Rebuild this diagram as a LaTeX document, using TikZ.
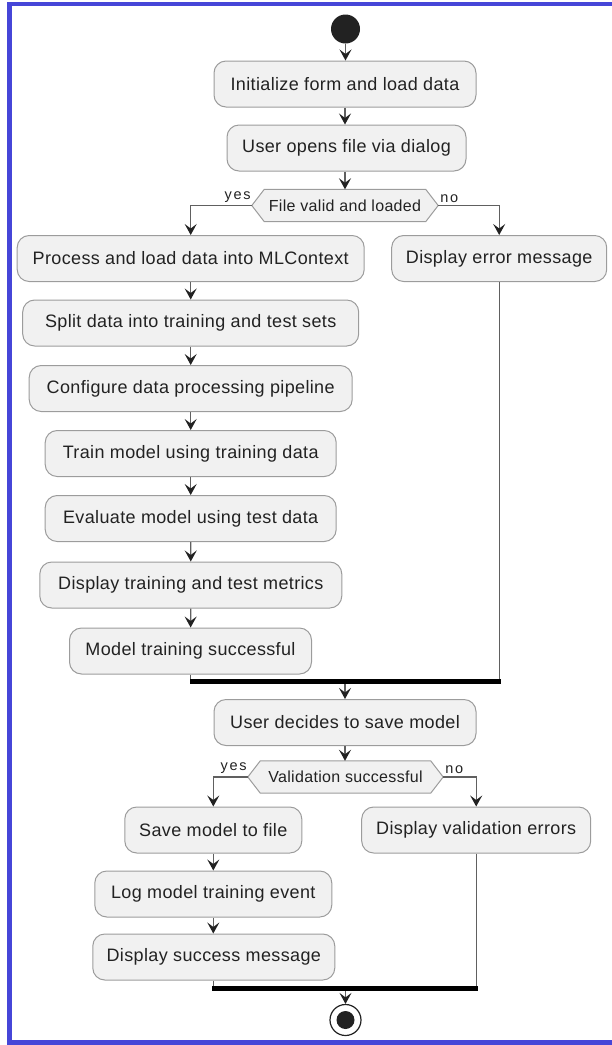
\documentclass[tikz,border=0pt]{standalone}
\usepackage{fontspec}
\setmainfont{Liberation Sans}[LetterSpace=2]
\newfontfamily\guardfont{Liberation Sans}[LetterSpace=2]
\newfontfamily\branchfont{Liberation Sans}[LetterSpace=12]
\usetikzlibrary{arrows.meta,calc,backgrounds}
\definecolor{frameblue}{HTML}{4646D8}
\definecolor{boxfill}{HTML}{F1F1F1}
\definecolor{boxline}{HTML}{9C9C9C}
\definecolor{ink}{HTML}{222222}
\definecolor{wire}{HTML}{606060}

\begin{document}
\begin{tikzpicture}[x=1pt,y=-1pt,
  action/.style={draw=boxline, fill=boxfill, line width=1pt, rounded corners=12pt,
    minimum height=46pt, inner sep=0pt, text=ink, font=\fontsize{18}{20}\selectfont},
  guard/.style={inner sep=0pt, minimum height=32pt, text=ink,
    font=\guardfont\fontsize{16}{18}\selectfont},
  hexline/.style={draw=boxline, fill=boxfill, line width=1pt},
  branch/.style={inner sep=0pt, text=ink, font=\branchfont\fontsize{14.5}{16}\selectfont},
  flow/.style={draw=wire, line width=1.3pt,
    -{Stealth[length=11pt,width=12pt,inset=4.5pt,color=ink]}},
  mergeline/.style={draw=wire, line width=1.3pt},
  syncbar/.style={fill=black, inner sep=0pt, minimum height=5.5pt},
]
\useasboundingbox (0,0) rectangle (612,1045);

% frame (open on the right side)
\draw[frameblue, line width=4.5pt] (612,4) -- (9.5,4) -- (9.5,1042.7) -- (612,1042.7);

% start
\node[circle, fill=ink, minimum size=29pt, inner sep=0pt] (start) at (345.5,29) {};

% main sequence
\node[action, minimum width=262pt] (init) at (345,84) {Initialize form and load data};
\node[action, minimum width=239pt] (open) at (346.5,148) {User opens file via dialog};

% first decision
\node[guard, minimum width=161pt] (q1) at (345,205.5) {File valid and loaded};
\coordinate (q1l) at ([xshift=-12.5pt]q1.west);
\coordinate (q1r) at ([xshift=12.5pt]q1.east);
\begin{scope}[on background layer]
  \draw[hexline] (q1.north west) -- (q1.north east) -- (q1r) -- (q1.south east)
    -- (q1.south west) -- (q1l) -- cycle;
\end{scope}
\node[branch, anchor=south east] (yes1) at ([xshift=-1pt,yshift=3pt]q1l) {yes};
\node[branch, anchor=south west] (no1) at ([xshift=2pt,yshift=3pt]q1r) {no};

% success branch
\node[action, minimum width=347pt] (proc) at (190.7,258.5) {Process and load data into MLContext};
\node[action, minimum width=336pt] (split) at (190.7,323) {Split data into training and test sets};
\node[action, minimum width=323pt] (conf) at (190.7,388.5) {Configure data processing pipeline};
\node[action, minimum width=291pt] (train) at (190.7,453.5) {Train model using training data};
\node[action, minimum width=291pt] (eval) at (190.7,518.5) {Evaluate model using test data};
\node[action, minimum width=302pt] (metr) at (190.8,585) {Display training and test metrics};
\node[action, minimum width=242pt] (done) at (190.5,651) {Model training successful};

% failure branch
\node[action, minimum width=215pt] (err) at (499.2,258.5) {Display error message};

% merge
\node[syncbar, minimum width=311pt] (bar1) at (345,681.5) {};

\node[action, minimum width=262pt] (decide) at (345,722.5) {User decides to save model};

% second decision
\node[guard, minimum width=170pt] (q2) at (345.5,777) {Validation successful};
\coordinate (q2l) at ([xshift=-12.5pt]q2.west);
\coordinate (q2r) at ([xshift=12.5pt]q2.east);
\begin{scope}[on background layer]
  \draw[hexline] (q2.north west) -- (q2.north east) -- (q2r) -- (q2.south east)
    -- (q2.south west) -- (q2l) -- cycle;
\end{scope}
\node[branch, anchor=south east] (yes2) at ([xshift=-1pt,yshift=3pt]q2l) {yes};
\node[branch, anchor=south west] (no2) at ([xshift=2pt,yshift=3pt]q2r) {no};

\node[action, minimum width=177pt] (save) at (213.3,830) {Save model to file};
\node[action, minimum width=237pt] (logev) at (213.3,894) {Log model training event};
\node[action, minimum width=242pt] (okmsg) at (213.8,957) {Display success message};
\node[action, minimum width=229pt] (verr) at (476.2,830) {Display validation errors};

\node[syncbar, minimum width=265.4pt] (bar2) at (345,988.5) {};

% end
\node[circle, draw=ink, line width=1.2pt, minimum size=31pt, inner sep=0pt] (stop) at (345.5,1020) {};
\node[circle, fill=ink, minimum size=18pt, inner sep=0pt] (stopdot) at (stop.center) {};

% connectors
\draw[flow] (start) -- (start |- init.north);
\draw[flow] (init) -- (init.south |- open.north);
\draw[flow] (open.south -| q1.north) -- (q1.north);
\draw[flow] (q1l) -| (proc.north);
\draw[flow] (q1r) -| (err.north);
\draw[flow] (proc) -- (split);
\draw[flow] (split) -- (conf);
\draw[flow] (conf) -- (train);
\draw[flow] (train) -- (eval);
\draw[flow] (eval) -- (metr);
\draw[flow] (metr) -- (done);
\draw[mergeline] (done.south) -- (done.south |- bar1.north);
\draw[mergeline] (err.south) -- (err.south |- bar1.north);
\draw[flow] (bar1.south) -- (decide.north);
\draw[flow] (decide.south) -- (decide.south |- q2.north);
\draw[flow] (q2l) -| (save.north);
\draw[flow] (q2r) -| (verr.north);
\draw[flow] (save) -- (logev);
\draw[flow] (logev.south) -- (logev.south |- okmsg.north);
\draw[mergeline] (okmsg.south) -- (okmsg.south |- bar2.north);
\draw[mergeline] (verr.south) -- (verr.south |- bar2.north);
\draw[flow] (bar2.south -| stop.north) -- (stop.north);
\end{tikzpicture}
\end{document}
